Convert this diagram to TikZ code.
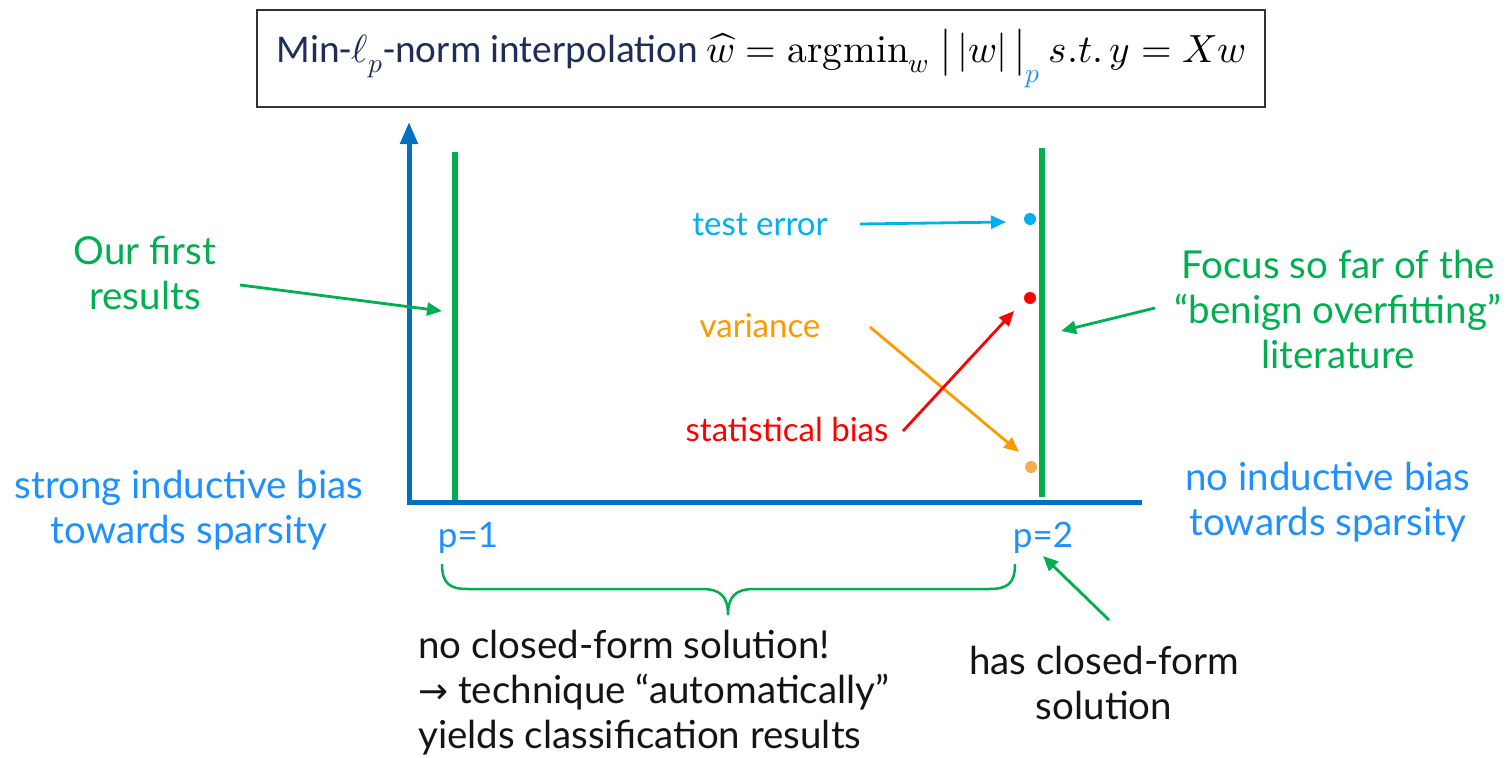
\documentclass[tikz,border=0pt]{standalone}
\usepackage{graphicx}
\usepackage{fontspec}
\usepackage{unicode-math}
\setmainfont{Lato}
\setmathfont{Latin Modern Math}
\newfontfamily\titlefont{Carlito}
\newfontfamily\arrowfont{DejaVu Sans}
\usetikzlibrary{arrows.meta}
\definecolor{axblue}{RGB}{0,112,192}
\definecolor{pgreen}{RGB}{0,176,80}
\definecolor{lblue}{RGB}{30,144,255}
\definecolor{pcyan}{RGB}{0,176,240}
\definecolor{porange}{RGB}{255,153,0}
\definecolor{dotorange}{RGB}{247,170,80}
\definecolor{pred}{RGB}{255,0,0}
\definecolor{navy}{RGB}{31,45,90}
\definecolor{txtblack}{RGB}{20,20,20}
\tikzset{
  lbl/.style={font=\fontsize{38.5}{45}\selectfont, align=center, inner sep=0pt},
  slbl/.style={font=\fontsize{33}{45}\selectfont, align=center, inner sep=0pt},
  parrow/.style={line width=2.8pt, -{Triangle[length=15pt,width=13pt]}},
  pdot/.style={circle, fill=#1, inner sep=0pt, minimum size=12pt},
  vline/.style={pgreen, line width=6pt},
}
\begin{document}
\begin{tikzpicture}[x=1pt,y=-1pt]
\useasboundingbox (0,0) rectangle (1511,757);
% title
\node[draw=black!80, line width=1.8pt, minimum width=1008pt, minimum height=97pt, inner sep=0pt,
      font=\titlefont\fontsize{39.3}{44}\selectfont, text=navy] (title) at (761,58.5)
  {Min-$\ell_p$-norm interpolation \textcolor{black}{$\widehat{w} = \symup{argmin}_w\;\big|\,|w|\,\big|_{\textcolor{lblue}{p}}\ s.t.\, y = Xw$}};
% axes
\coordinate (ytop) at (409,122);
\coordinate (ybot) at (409,504.5);
\coordinate (xstart) at (406.5,502);
\coordinate (xend) at (1142,502);
\draw[axblue, line width=5pt, -{Triangle[length=22pt,width=17pt]}] (ybot) -- (ytop);
\draw[axblue, line width=5pt] (xstart) -- (xend);
% green vertical lines
\coordinate (l1t) at (455,152); \coordinate (l1b) at (455,500);
\coordinate (l2t) at (1042,148); \coordinate (l2b) at (1042,497);
\draw[vline] (l1t) -- (l1b);
\draw[vline] (l2t) -- (l2b);
% dots
\node[pdot=pcyan] (dtest) at (1030,219) {};
\node[pdot=pred] (dbias) at (1030,298) {};
\node[pdot=dotorange] (dvar) at (1031,467) {};
% labels
\node[slbl, text=pcyan] (ltest) at (760,225) {test error};
\node[slbl, text=porange] (lvar) at (760,326) {variance};
\node[slbl, text=pred] (lbias) at (787,429) {statistical bias};
\node[lbl, text=pgreen] (lfirst) at (145,273) {Our first\\results};
\node[lbl, text=pgreen] (lfocus) at (1338,309) {Focus so far of the\\“benign overfitting”\\literature};
\node[lbl, text=lblue] (lstrong) at (189,510) {strong inductive bias\\towards sparsity};
\node[lbl, text=lblue] (lno) at (1328,502) {no inductive bias\\towards sparsity};
\node[slbl, font=\fontsize{35}{45}\selectfont, text=lblue] (p1) at (468,538) {p=1};
\node[slbl, font=\fontsize{35}{45}\selectfont, text=lblue] (p2) at (1043,538) {p=2};
\node[lbl, text=txtblack, align=left, anchor=north west] (lclosed) at (418,630) {no closed-form solution!\\\resizebox{30pt}{!}{\arrowfont →} technique “automatically”\\yields classification results};
\node[lbl, text=txtblack] (lhas) at (1104,683) {has closed-form\\solution};
% arrows
\coordinate (atest0) at (860,224); \coordinate (atest1) at (1006,222);
\draw[parrow, pcyan] (atest0) -- (atest1);
\coordinate (avar0) at (870,327); \coordinate (avar1) at (1019,452);
\draw[parrow, porange] (avar0) -- (avar1);
\coordinate (abias0) at (903,431); \coordinate (abias1) at (1014,311);
\draw[parrow, pred] (abias0) -- (abias1);
\coordinate (afirst0) at (240,285); \coordinate (afirst1) at (442,311);
\draw[parrow, pgreen] (afirst0) -- (afirst1);
\coordinate (afocus0) at (1155,308); \coordinate (afocus1) at (1061,331);
\draw[parrow, pgreen] (afocus0) -- (afocus1);
\coordinate (ahas0) at (1109,620); \coordinate (ahas1) at (1043,556);
\draw[parrow, pgreen] (ahas0) -- (ahas1);
% brace
\coordinate (b0) at (442,564); \coordinate (b1) at (1015,564); \coordinate (btip) at (728,615);
\draw[pgreen, line width=2.5pt]
  (b0) .. controls (442,584) and (450,589) .. (468,589) -- (702,589)
  .. controls (720,589) and (728,596) .. (btip)
  .. controls (728,596) and (736,589) .. (754,589) -- (989,589)
  .. controls (1007,589) and (1015,584) .. (b1);
\end{tikzpicture}
\end{document}
